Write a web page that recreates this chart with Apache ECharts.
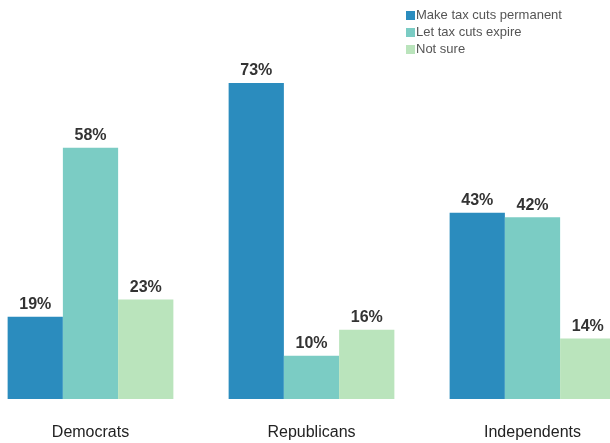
<!DOCTYPE html>
<html>
<head>
<meta charset="utf-8">
<script src="https://cdn.jsdelivr.net/npm/echarts@6/dist/echarts.min.js"></script>
<style>html,body{margin:0;padding:0;background:#fff;}#c{width:610px;height:443px;}</style>
</head>
<body>
<div id="c"></div>
<script>
var categories = ['Democrats', 'Republicans', 'Independents'];
var seriesNames = ['Make tax cuts permanent', 'Let tax cuts expire', 'Not sure'];
var permanent = [19, 73, 43];
var expire = [58, 10, 42];
var notSure = [23, 16, 14];
var colors = ['#2b8cbe', '#7bccc4', '#bae4bc'];

var chart = echarts.init(document.getElementById('c'), null, {renderer: 'canvas'});
var values = [permanent, expire, notSure];
var series = values.map(function (d, i) {
  return {
    name: seriesNames[i],
    type: 'bar',
    data: d,
    barGap: '0%',
    barCategoryGap: '25%',
    itemStyle: {color: colors[i]},
    label: {
      show: true,
      position: 'top',
      distance: 4,
      formatter: '{c}%',
      fontFamily: 'Liberation Sans',
      fontSize: 16,
      fontWeight: 'bold',
      color: '#333'
    }
  };
});
chart.setOption({
  animation: false,
  textStyle: {fontFamily: 'Liberation Sans'},
  color: colors,
  legend: {
    orient: 'vertical',
    left: 401,
    top: 4,
    itemWidth: 9,
    itemHeight: 9,
    itemGap: 4,
    icon: 'rect',
    textStyle: {fontSize: 13, color: '#555', fontFamily: 'Liberation Sans', padding: [0, 0, 0, -4]},
    data: seriesNames
  },
  grid: {left: -20, width: 663, top: 52.6, bottom: 44, containLabel: false, outerBoundsMode: 'none'},
  xAxis: {
    type: 'category',
    data: categories,
    axisLine: {show: false},
    axisTick: {show: false},
    axisLabel: {fontSize: 16, color: '#222', margin: 26, fontFamily: 'Liberation Sans'}
  },
  yAxis: {
    type: 'value',
    min: 0,
    max: 80,
    show: false,
    splitLine: {show: false}
  },
  series: series
});
</script>
</body>
</html>
